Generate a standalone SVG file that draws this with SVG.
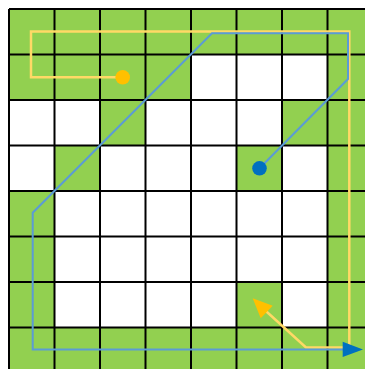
<svg xmlns="http://www.w3.org/2000/svg" width="365" height="369" viewBox="0 0 365 369">
<defs>
<style>
.g{fill:#92d050}
.ln{stroke:#000;stroke-width:2;fill:none}
.yl{stroke:#ffd966;stroke-width:2.5;fill:none}
.bl{stroke:#5b9bd5;stroke-width:2;fill:none}
</style>
<marker id="ay" markerWidth="10" markerHeight="10" viewBox="0 0 10 10" refX="10" refY="5" orient="auto" markerUnits="userSpaceOnUse" style="overflow:visible">
<path d="M0,0 L10,5 L0,10 Z" fill="#ffc000"/>
</marker>
</defs>
<rect x="0" y="0" width="365" height="369" fill="#fff"/>
<g id="cells" class="g">
<rect x="9" y="9" width="364" height="45.5"/>
<rect x="9" y="54.5" width="182" height="45.5"/>
<rect x="327.5" y="54.5" width="45.5" height="318.5"/>
<rect x="100" y="100" width="45.5" height="45.5"/>
<rect x="282" y="100" width="45.5" height="45.5"/>
<rect x="54.5" y="145.5" width="45.5" height="45.5"/>
<rect x="236.5" y="145.5" width="45.5" height="45.5"/>
<rect x="9" y="191" width="45.5" height="182"/>
<rect x="236.5" y="282" width="45.5" height="45.5"/>
<rect x="9" y="327.5" width="364" height="45.5"/>
</g>
<g id="grid" class="ln">
<path d="M9,9V373M54.5,9V373M100,9V373M145.5,9V373M191,9V373M236.5,9V373M282,9V373M327.5,9V373"/>
<path d="M9,9H373M9,54.5H373M9,100H373M9,145.5H373M9,191H373M9,236.5H373M9,282H373M9,327.5H373"/>
</g>
<g id="connectors">
<path id="yellow-path" class="yl" d="M122.7,77.3 H31 V31.5 H349.3 V347.5 H306 L262,307.5"/>
<path d="M252.7,298.3 L272.7,305.7 L260.7,318.3 Z" fill="#ffc000"/>
<path id="blue-path" class="bl" d="M259.5,168.3 L348,79 V33.3 H212 L32.7,212.7 V349.5 H345"/>
<path d="M363,349.5 L342.7,341.8 L342.7,357 Z" fill="#0070c0"/>
</g>
<g id="start-yellow"><circle cx="122.7" cy="77.3" r="7.3" fill="#ffc000"/></g>
<g id="start-blue"><circle cx="259.5" cy="168.3" r="7.3" fill="#0070c0"/></g>
</svg>
